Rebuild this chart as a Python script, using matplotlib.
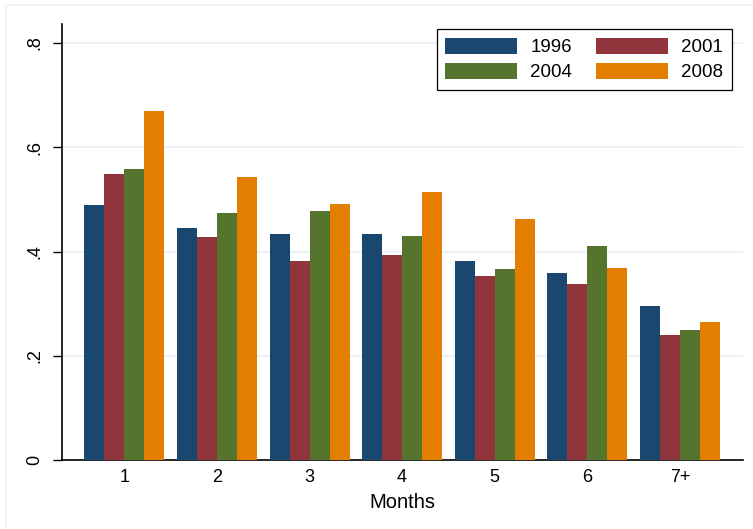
import numpy as np
import matplotlib.pyplot as plt
from matplotlib.patches import Rectangle

plt.rcParams['font.family'] = ['Liberation Sans', 'DejaVu Sans']

# Share by months and survey year
months = ['1', '2', '3', '4', '5', '6', '7+']
years = ['1996', '2001', '2004', '2008']
v1996 = [0.490, 0.445, 0.434, 0.434, 0.381, 0.359, 0.296]
v2001 = [0.549, 0.427, 0.382, 0.394, 0.353, 0.338, 0.241]
v2004 = [0.558, 0.474, 0.478, 0.429, 0.367, 0.410, 0.250]
v2008 = [0.669, 0.542, 0.492, 0.515, 0.463, 0.369, 0.265]
colors = ['#1A476F', '#90353B', '#55752F', '#E37E00']

fig = plt.figure(figsize=(7.53, 5.29), dpi=100)
fig.patch.set_facecolor('white')
# light outer frame like Stata's graph region
fig.patches.append(Rectangle((6 / 753, -0.1), 1.2, 1.1 - 5 / 529,
                             transform=fig.transFigure, fill=False,
                             edgecolor='#EAF2F3', linewidth=1.2, zorder=0))

ax = fig.add_axes([62 / 753, 1 - 460.3 / 529, 680.7 / 753, 436.3 / 529])

x = np.arange(len(months))
w = 0.216
bars = []
for i, (vals, lab) in enumerate(zip([v1996, v2001, v2004, v2008], years)):
    b = ax.bar(x + (i - 1.5) * w, vals, width=w, color=colors[i], label=lab,
               edgecolor='none', zorder=3)
    bars.append(b)

ax.set_xlim(-0.673, 6.678)
ax.set_ylim(0, 0.836)
ax.set_yticks([0, 0.2, 0.4, 0.6, 0.8])
ax.set_yticklabels(['0', '.2', '.4', '.6', '.8'], rotation=90, va='center')
ax.set_xticks(x)
ax.set_xticklabels(months)
ax.tick_params(axis='y', length=6.5, width=1, pad=7, labelsize=13)
ax.tick_params(axis='x', length=0, pad=6.5, labelsize=13)
ax.set_xlabel('Months', fontsize=14.5, labelpad=5)

for y in [0.2, 0.4, 0.6, 0.8]:
    ax.axhline(y, color='#EAF2F3', linewidth=1.3, zorder=1)

for s in ['top', 'right']:
    ax.spines[s].set_visible(False)
for s in ['left', 'bottom']:
    ax.spines[s].set_linewidth(1.2)

# row-wise order: 1996 2001 / 2004 2008
order = [0, 2, 1, 3]
leg = ax.legend([bars[k] for k in order], [years[k] for k in order],
                ncol=2, loc='upper right', bbox_to_anchor=(0.984, 0.988),
                borderaxespad=0, fontsize=13.5, handlelength=3.84,
                handleheight=0.96, handletextpad=0.69, columnspacing=1.3,
                labelspacing=0.35, borderpad=0.45, fancybox=False,
                framealpha=1, edgecolor='black')
leg.get_frame().set_linewidth(0.9)

fig.savefig('out.png', dpi=100)
